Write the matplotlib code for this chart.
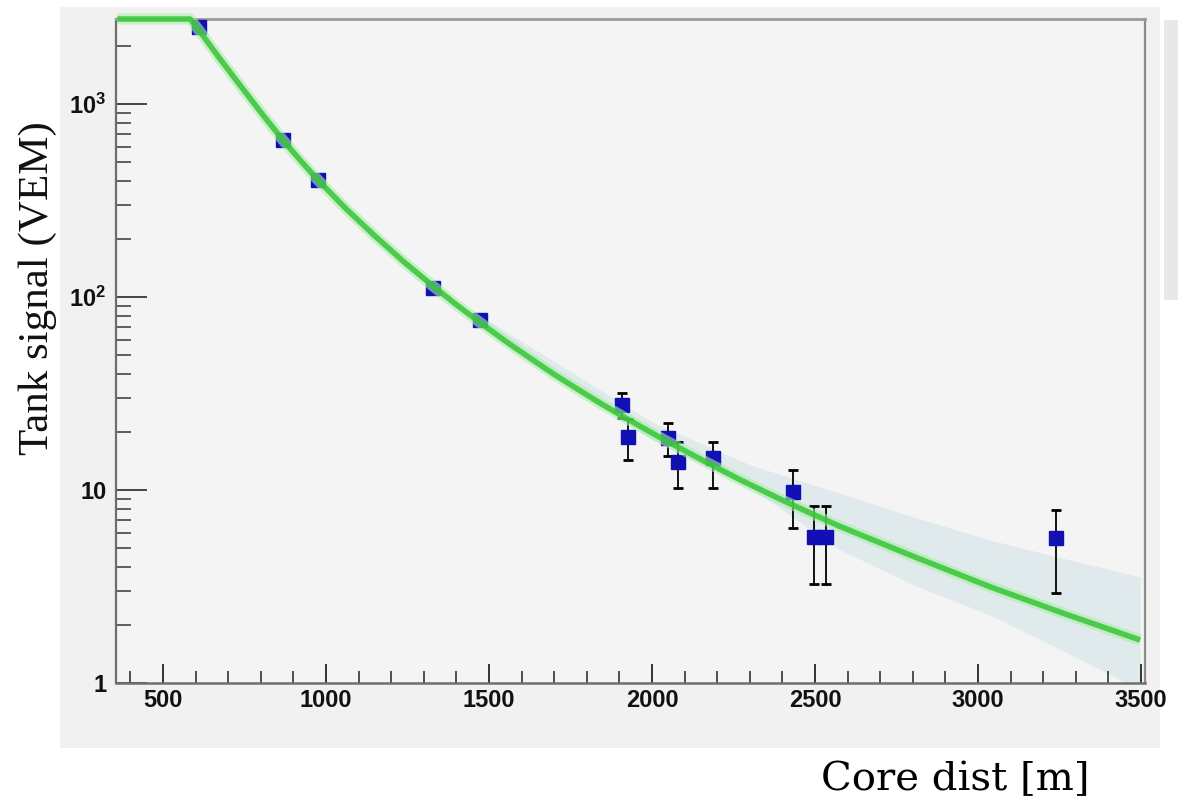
import matplotlib
matplotlib.use('Agg')
import matplotlib.pyplot as plt
from matplotlib.patches import Rectangle
from matplotlib.ticker import MultipleLocator, LogLocator, NullFormatter, FixedLocator, FixedFormatter

# station signals (core distance in m, signal in VEM)
dist = [610, 868, 975, 1328, 1472, 1908, 1926, 2049, 2080, 2187, 2432, 2497, 2534, 3239]
signal = [2506, 651, 404, 111, 76, 27.6, 18.8, 18.6, 14.0, 14.6, 9.77, 5.71, 5.71, 5.64]
sig_lo = [2506, 651, 404, 111, 76, 23.5, 14.3, 15.0, 10.2, 10.2, 6.35, 3.26, 3.26, 2.93]
sig_hi = [2506, 651, 404, 111, 76, 31.8, 23.4, 22.2, 17.8, 17.7, 12.7, 8.26, 8.26, 7.88]

# fitted LDF, read at points along the green curve (pinned to the top edge below ~580 m)
fit_r = [360, 583, 610, 673, 736, 802, 868, 921, 975, 1062, 1150, 1239, 1328, 1400,
         1472, 1549, 1626, 1702, 1779, 1848, 1917, 2032, 2147, 2270, 2393, 2485,
         2577, 2807, 3037, 3267, 3497]
fit_s = [2755, 2755, 2415, 1730, 1253, 897, 650, 511, 404, 286, 207, 152, 114, 91.2,
         73.8, 59.3, 48.2, 39.5, 32.7, 27.7, 23.7, 18.4, 14.5, 11.3, 8.97, 7.60,
         6.47, 4.49, 3.15, 2.28, 1.67]

# uncertainty band of the fit
band_r = [1500, 2000, 2300, 2577, 2807, 3037, 3267, 3497]
band_lo = [67, 18.2, 10.3, 4.9, 3.2, 2.25, 1.45, 0.92]
band_hi = [75, 22.5, 13.5, 9.6, 7.2, 5.5, 4.4, 3.54]

xticks = [500, 1000, 1500, 2000, 2500, 3000, 3500]
yticks = [1, 10, 100, 1000]
ylabels = ['1', '10', r'$\mathbf{10^{2}}$', r'$\mathbf{10^{3}}$']

tick_font = 'Liberation Sans'
plt.rcParams['mathtext.fontset'] = 'custom'
plt.rcParams['mathtext.bf'] = tick_font + ':bold'
plt.rcParams['mathtext.rm'] = tick_font

fig = plt.figure(figsize=(11.88, 8.05), dpi=100)
fig.patch.set_facecolor('white')
fig.patches.append(Rectangle((60 / 1188, 1 - 748 / 805), 1100 / 1188, 741 / 805,
                             transform=fig.transFigure, facecolor='#f1f1f1',
                             edgecolor='none', zorder=-2))
fig.patches.append(Rectangle((1164 / 1188, 1 - 300 / 805), 14 / 1188, 280 / 805,
                             transform=fig.transFigure, facecolor='#e8e8e8',
                             edgecolor='none', zorder=-2))

ax = fig.add_axes([116 / 1188, 1 - 683 / 805, 1029 / 1188, 664 / 805])
ax.set_facecolor('#f4f4f4')
ax.set_yscale('log')
ax.set_xlim(356, 3512)
ax.set_ylim(1, 2755)

ax.fill_between(band_r, band_lo, band_hi, color='#e0e9eb', lw=0, zorder=1)

yerr = [[s - l for s, l in zip(signal, sig_lo)], [h - s for s, h in zip(signal, sig_hi)]]
ax.errorbar(dist, signal, yerr=yerr, fmt='s', color='#1010b4', markersize=10,
            ecolor='black', elinewidth=1.3, capsize=3.5, capthick=2, zorder=3)

ax.plot(fit_r, fit_s, color='#a6f0a6', lw=8, alpha=0.6, zorder=4, clip_on=False,
        solid_capstyle='butt')
ax.plot(fit_r, fit_s, color='#38c438', lw=4, alpha=0.85, zorder=5, clip_on=False,
        solid_capstyle='butt')

for side, col, lw in [('left', '#6e6e6e', 1.6), ('bottom', '#6e6e6e', 1.8),
                      ('top', '#9a9a9a', 2.0), ('right', '#8a8a8a', 1.6)]:
    ax.spines[side].set_color(col)
    ax.spines[side].set_linewidth(lw)

ax.xaxis.set_major_locator(FixedLocator(xticks))
ax.xaxis.set_minor_locator(MultipleLocator(100))
ax.yaxis.set_major_locator(FixedLocator(yticks))
ax.yaxis.set_major_formatter(FixedFormatter(ylabels))
ax.yaxis.set_minor_locator(LogLocator(base=10, subs=[2, 3, 4, 5, 6, 7, 8, 9]))
ax.yaxis.set_minor_formatter(NullFormatter())

ax.tick_params(axis='x', which='major', direction='in', length=14, width=1.4,
               color='#333333', pad=4)
ax.tick_params(axis='x', which='minor', direction='in', length=9, width=1.2,
               color='#333333')
ax.tick_params(axis='y', which='major', direction='in', length=22, width=1.4,
               color='#444444', pad=7)
ax.tick_params(axis='y', which='minor', direction='in', length=11, width=1.2,
               color='#444444')
ax.tick_params(top=False, right=False)

for lab in ax.get_xticklabels() + ax.get_yticklabels():
    lab.set_fontfamily(tick_font)
    lab.set_fontweight('bold')
    lab.set_fontsize(17)
    lab.set_color('#111111')

fig.text(38 / 1188, 1 - 288 / 805, 'Tank signal (VEM)', rotation=90,
         family=['Liberation Serif', 'DejaVu Serif'], fontsize=31,
         ha='center', va='center', color='#111111')
fig.text(955 / 1188, 1 - 780 / 805, 'Core dist [m]', family='DejaVu Serif',
         fontsize=29, ha='center', va='center', color='black')

fig.savefig('out.png', dpi=100)
